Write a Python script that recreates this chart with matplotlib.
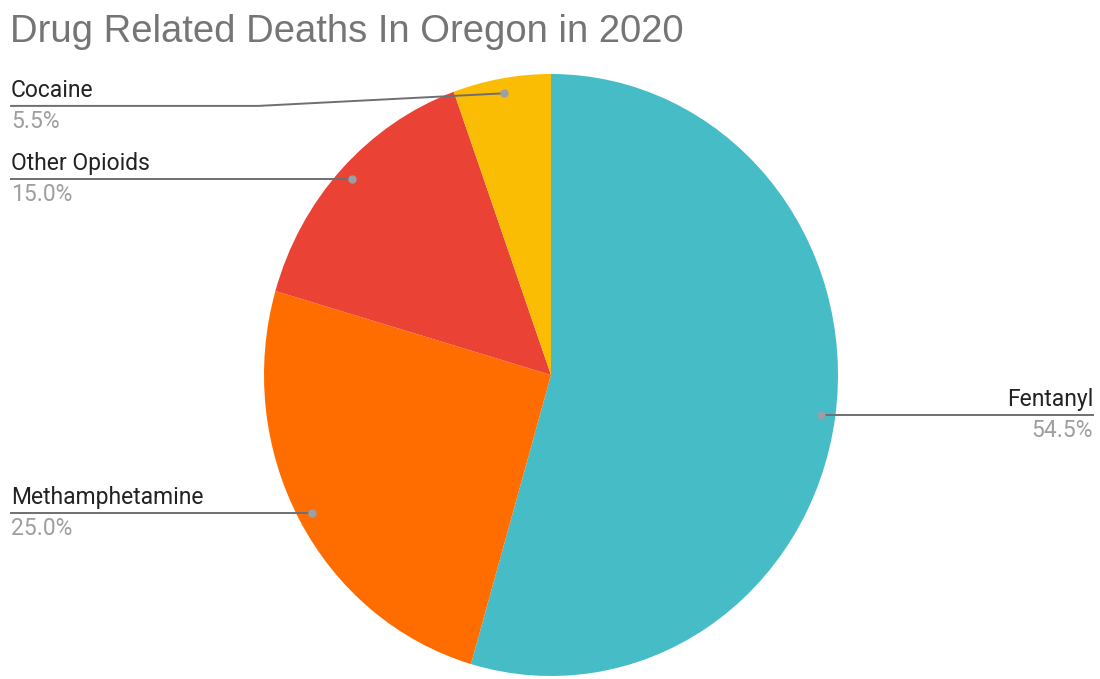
import numpy as np
import matplotlib.pyplot as plt

# data
drugs = ["Fentanyl", "Methamphetamine", "Other Opioids", "Cocaine"]
shares = [54.5, 25.0, 15.0, 5.5]
colors = ["#46BDC6", "#FF6D01", "#EA4335", "#FBBC04"]

fig = plt.figure(figsize=(11, 6.79), dpi=100)
# pie occupies px x 264..838, y 74..676 (image is slightly stretched vertically)
ax = fig.add_axes([264 / 1100, 3 / 679, 574 / 1100, 602 / 679])
wedges, _ = ax.pie(shares, colors=colors, startangle=90, counterclock=False,
                   wedgeprops=dict(linewidth=0))
ax.set_aspect("auto")
ax.set_xlim(-1, 1)
ax.set_ylim(-1, 1)
ax.axis("off")

fig.text(0.009, 1 - 42 / 679, "Drug Related Deaths In Oregon in 2020",
         fontsize=27.5, color="#757575", family=["Liberation Sans"], va="baseline")


def fig_x_to_data(fx):
    disp = fig.transFigure.transform((fx, 0))
    return ax.transData.inverted().transform(disp)[0]


left_x = fig_x_to_data(11 / 1100)
right_x = fig_x_to_data(1093 / 1100)
# label line heights differing from the dot (to avoid overlap)
line_y = {"Cocaine": 0.894}
kink_x = {"Cocaine": -1.02}

for w, name, val in zip(wedges, drugs, shares):
    mid = np.deg2rad((w.theta1 + w.theta2) / 2)
    dx, dy = 0.95 * np.cos(mid), 0.95 * np.sin(mid)
    ly = line_y.get(name, dy)
    if dx > 0:
        xs, ys, ha, ex = [dx, right_x], [dy, ly], "right", right_x
    elif name in kink_x:
        xs, ys, ha, ex = [dx, kink_x[name], left_x], [dy, ly, ly], "left", left_x
    else:
        xs, ys, ha, ex = [dx, left_x], [dy, ly], "left", left_x
    ax.plot(xs, ys, color="#6f6f6f", lw=1.4, clip_on=False, zorder=3)
    ax.plot(dx, dy, "o", ms=5, color="#9AA0A6", clip_on=False, zorder=4)
    ax.annotate(name, (ex, ly), xytext=(0, 3), textcoords="offset points",
                ha=ha, va="bottom", fontsize=16.5, family="Roboto",
                color="#222222", annotation_clip=False)
    ax.annotate(f"{val:.1f}%", (ex, ly), xytext=(0, -3), textcoords="offset points",
                ha=ha, va="top", fontsize=16.5, family="Roboto",
                color="#9E9E9E", annotation_clip=False)

fig.savefig("out.png", dpi=100, facecolor="white")
